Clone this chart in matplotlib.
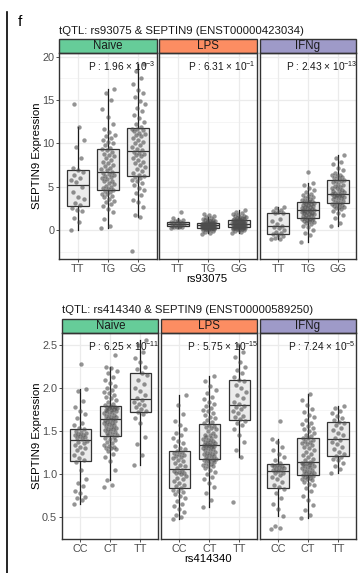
import matplotlib
matplotlib.use("Agg")
import matplotlib.pyplot as plt
from matplotlib.patches import Rectangle
from matplotlib.lines import Line2D

plt.rcParams['font.family'] = ['Liberation Sans', 'DejaVu Sans']
plt.rcParams['mathtext.default'] = 'regular'

conditions = ['Naive', 'LPS', 'IFNg']
strip_colors = ['#66CC99', '#FC8D62', '#9E9AC8']

# ---- rs93075 / SEPTIN9 (ENST00000423034)
geno_a = ['TT', 'TG', 'GG']
pvals_a = ['1.96', '6.31', '2.43']
pexp_a = ['-3', '-1', '-13']

naive_TT = [0.0, 0.9, 1.4, 2.2, 2.3, 2.5, 2.9, 3.1, 3.6, 3.8, 4.4, 5.0, 5.5, 5.8, 6.0, 6.4,
            6.7, 6.9, 7.2, 8.3, 9.6, 10.4, 11.9, 14.6]
naive_TG = [0.2, 0.5, 1.3, 2.1, 2.4, 2.8, 3.0, 3.2, 3.4, 3.6, 3.8, 3.9, 4.1, 4.2, 4.4, 4.5,
            4.6, 4.7, 4.9, 5.0, 5.1, 5.3, 5.4, 5.6, 5.7, 5.9, 6.0, 6.1, 6.2, 6.4, 6.5, 6.6,
            6.7, 6.9, 7.0, 7.2, 7.4, 7.5, 7.7, 7.9, 8.1, 8.3, 8.5, 8.7, 8.8, 9.0, 9.2, 9.3,
            9.5, 9.8, 10.0, 10.2, 10.4, 10.6, 10.8, 11.0, 11.3, 11.7, 12.2, 13.0, 14.0, 15.0, 15.8, 16.3]
naive_GG = [-2.4, 1.5, 1.7, 2.6, 3.2, 3.5, 4.0, 4.3, 4.6, 4.9, 5.2, 5.4, 5.6, 5.8, 6.0, 6.1,
            6.2, 6.4, 6.6, 6.8, 7.0, 7.3, 7.5, 7.7, 7.9, 8.1, 8.3, 8.5, 8.7, 8.8, 8.9, 9.0,
            9.2, 9.4, 9.6, 9.8, 10.0, 10.2, 10.4, 10.6, 10.8, 11.0, 11.1, 11.2, 11.4, 11.5, 11.6, 11.7,
            11.9, 12.2, 12.5, 12.9, 13.3, 13.7, 14.1, 14.5, 14.9, 15.3, 15.8, 16.2, 16.8, 17.6, 18.3, 19.2]
lps_TT = [0.25, 0.3, 0.35, 0.38, 0.4, 0.45, 0.5, 0.6, 0.65, 0.7, 0.75, 0.8, 0.85, 0.9, 0.95,
          1.05, 1.1, 1.2, 1.35, 2.1]
lps_TG = [-0.5, -0.3, -0.2, -0.1, 0.0, 0.05, 0.1, 0.12, 0.15, 0.17, 0.19, 0.2, 0.22, 0.23, 0.24, 0.25, 0.27,
          0.29, 0.31, 0.33, 0.35, 0.37, 0.39, 0.4, 0.42, 0.44, 0.45, 0.47, 0.48, 0.5, 0.51, 0.52, 0.53,
          0.55, 0.56, 0.57, 0.58, 0.6, 0.61, 0.62, 0.64, 0.65, 0.66, 0.68, 0.7, 0.71, 0.73, 0.74, 0.76,
          0.78, 0.8, 0.83, 0.86, 0.9, 0.95, 1.0, 1.05, 1.1, 1.15, 1.2, 1.3, 1.4, 1.5, 1.6, 1.75, 1.9]
lps_GG = [-0.3, -0.2, -0.1, 0.0, 0.05, 0.1, 0.13, 0.16, 0.19, 0.21, 0.23, 0.25, 0.27, 0.28, 0.29, 0.3,
          0.32, 0.34, 0.37, 0.4, 0.43, 0.46, 0.49, 0.51, 0.54, 0.56, 0.58, 0.6, 0.62, 0.64, 0.66, 0.68,
          0.7, 0.72, 0.75, 0.77, 0.8, 0.83, 0.86, 0.89, 0.92, 0.95, 0.98, 1.01, 1.04, 1.08, 1.11, 1.14,
          1.17, 1.2, 1.24, 1.28, 1.32, 1.36, 1.41, 1.46, 1.52, 1.58, 1.65, 1.73, 1.82, 1.93, 2.1, 2.3]
ifng_TT = [-1.05, -1.0, -0.9, -0.7, -0.55, -0.45, -0.4, -0.2, 0.0, 0.2, 0.4, 0.5, 0.7, 1.0, 1.3,
           1.95, 2.0, 2.05, 2.15, 2.3, 2.5, 2.7]
ifng_TG = [-1.4, -0.6, -0.3, 0.0, 0.3, 0.5, 0.7, 0.8, 0.9, 1.0, 1.05, 1.1, 1.2, 1.25, 1.3,
           1.35, 1.4, 1.5, 1.6, 1.7, 1.75, 1.8, 1.9, 1.95, 2.0, 2.05, 2.1, 2.15, 2.2, 2.25,
           2.3, 2.35, 2.4, 2.5, 2.55, 2.6, 2.7, 2.8, 2.85, 2.9, 3.0, 3.05, 3.1, 3.2, 3.25,
           3.3, 3.4, 3.5, 3.6, 3.7, 3.8, 3.9, 4.0, 4.2, 4.4, 4.6, 4.9, 5.2, 5.45, 6.65]
ifng_GG = [0.5, 0.8, 1.4, 1.7, 2.0, 2.2, 2.4, 2.5, 2.6, 2.7, 2.8, 2.9, 3.0, 3.05,
           3.15, 3.25, 3.35, 3.45, 3.55, 3.65, 3.75, 3.85, 3.9, 3.95, 4.0, 4.05, 4.1, 4.15,
           4.25, 4.35, 4.45, 4.55, 4.65, 4.8, 4.9, 5.0, 5.1, 5.2, 5.35, 5.5, 5.6, 5.7,
           5.8, 5.9, 6.0, 6.1, 6.2, 6.3, 6.4, 6.6, 6.9, 7.2, 7.6, 7.9, 8.3, 8.6]

# ---- rs414340 / SEPTIN9 (ENST00000589250)
geno_b = ['CC', 'CT', 'TT']
pvals_b = ['6.25', '5.75', '7.24']
pexp_b = ['-11', '-15', '-5']

naive_CC = [0.66, 0.7, 0.72, 0.74, 0.78, 0.8, 0.86, 0.9, 0.95, 1.05, 1.14,
            1.16, 1.19, 1.22, 1.25, 1.28, 1.3, 1.32, 1.34, 1.36, 1.38, 1.39,
            1.41, 1.42, 1.43, 1.44, 1.45, 1.46, 1.47, 1.48, 1.49, 1.5, 1.52,
            1.54, 1.57, 1.6, 1.65, 1.7, 1.74, 1.78, 1.85, 1.97, 1.99, 2.28]
naive_CT = [0.85, 0.87, 0.93, 1.05, 1.15, 1.2, 1.24, 1.27, 1.29, 1.3, 1.31, 1.32, 1.33, 1.34, 1.36, 1.38, 1.4, 1.41, 1.42, 1.43,
            1.45, 1.46, 1.47, 1.48, 1.49, 1.5, 1.51, 1.52, 1.53, 1.54, 1.55, 1.56, 1.57, 1.58, 1.59, 1.6, 1.61, 1.62, 1.63, 1.635,
            1.645, 1.65, 1.66, 1.67, 1.68, 1.69, 1.7, 1.71, 1.72, 1.73, 1.74, 1.745, 1.75, 1.76, 1.765, 1.77, 1.775, 1.78, 1.785, 1.79,
            1.8, 1.82, 1.84, 1.86, 1.88, 1.9, 1.92, 1.94, 1.96, 1.98, 2.0, 2.03, 2.06, 2.1, 2.13, 2.17, 2.2, 2.23, 2.25, 2.38]
naive_TT2 = [1.11, 1.22, 1.35, 1.43, 1.6, 1.65, 1.7, 1.72,
             1.74, 1.76, 1.78, 1.8, 1.82, 1.84, 1.86,
             1.88, 1.92, 1.97, 2.0, 2.05, 2.1, 2.15,
             2.18, 2.22, 2.25, 2.3, 2.35, 2.42, 2.5, 2.56]
lps_CC = [0.48, 0.5, 0.53, 0.56, 0.6, 0.63, 0.66, 0.69, 0.72, 0.75, 0.77, 0.79, 0.81, 0.82,
          0.84, 0.86, 0.88, 0.9, 0.92, 0.94, 0.96, 0.98, 1.0, 1.01, 1.02, 1.03, 1.04, 1.05,
          1.07, 1.09, 1.11, 1.13, 1.15, 1.17, 1.19, 1.2, 1.21, 1.22, 1.24, 1.25, 1.26, 1.27,
          1.29, 1.31, 1.33, 1.36, 1.39, 1.42, 1.45, 1.48, 1.52, 1.57, 1.62, 1.7, 1.8, 1.92]
lps_CT = [0.62, 0.7, 0.78, 0.85, 0.9, 0.94, 0.97, 1.0, 1.03, 1.05, 1.07, 1.09, 1.1, 1.11, 1.12, 1.13, 1.14, 1.15, 1.16, 1.165,
          1.175, 1.18, 1.19, 1.2, 1.21, 1.22, 1.23, 1.24, 1.25, 1.26, 1.27, 1.28, 1.29, 1.3, 1.31, 1.32, 1.325, 1.33, 1.335, 1.338,
          1.342, 1.35, 1.36, 1.37, 1.38, 1.39, 1.4, 1.41, 1.42, 1.43, 1.44, 1.45, 1.46, 1.48, 1.5, 1.52, 1.54, 1.55, 1.565, 1.575,
          1.59, 1.61, 1.63, 1.65, 1.67, 1.69, 1.71, 1.73, 1.75, 1.77, 1.79, 1.81, 1.84, 1.87, 1.9, 1.94, 1.98, 2.03, 2.08, 2.14]
lps_TT2 = [0.68, 1.2, 1.28, 1.38, 1.45, 1.52, 1.57, 1.6, 1.62,
           1.64, 1.66, 1.68, 1.71, 1.74, 1.76, 1.78, 1.79,
           1.81, 1.84, 1.88, 1.92, 1.96, 2.0, 2.04, 2.08,
           2.1, 2.13, 2.17, 2.21, 2.25, 2.3, 2.36, 2.42, 2.5]
ifng_CC = [0.36, 0.38, 0.4, 0.51, 0.6, 0.66, 0.72, 0.78, 0.83,
           0.85, 0.88, 0.91, 0.94, 0.97, 0.99, 1.01, 1.02, 1.035,
           1.045, 1.055, 1.065, 1.07, 1.08, 1.09, 1.1, 1.105, 1.11,
           1.13, 1.16, 1.2, 1.24, 1.28, 1.32, 1.37, 1.41, 1.62]
ifng_CT = [0.49, 0.53, 0.58, 0.64, 0.7, 0.75, 0.8, 0.84, 0.87, 0.89, 0.91, 0.93, 0.94, 0.95, 0.96, 0.97, 0.975, 0.985,
           0.99, 1.0, 1.01, 1.02, 1.03, 1.04, 1.05, 1.06, 1.07, 1.08, 1.09, 1.1, 1.11, 1.12, 1.125, 1.13, 1.135,
           1.145, 1.16, 1.18, 1.2, 1.22, 1.24, 1.26, 1.28, 1.3, 1.32, 1.34, 1.35, 1.36, 1.38, 1.39, 1.4, 1.415,
           1.425, 1.44, 1.46, 1.48, 1.5, 1.52, 1.54, 1.56, 1.58, 1.6, 1.63, 1.66, 1.69, 1.72, 1.76, 1.8, 1.86, 1.93]
ifng_TT2 = [1.02, 1.06, 1.1, 1.13, 1.16, 1.18, 1.2, 1.21,
            1.23, 1.26, 1.29, 1.32, 1.35, 1.38, 1.4,
            1.42, 1.45, 1.48, 1.51, 1.54, 1.57, 1.59,
            1.61, 1.63, 1.65, 1.68, 1.71, 1.74, 1.77, 1.79]

top_data = [[naive_TT, naive_TG, naive_GG], [lps_TT, lps_TG, lps_GG], [ifng_TT, ifng_TG, ifng_GG]]
bot_data = [[naive_CC, naive_CT, naive_TT2], [lps_CC, lps_CT, lps_TT2], [ifng_CC, ifng_CT, ifng_TT2]]

W, H = 358, 573
fig = plt.figure(figsize=(W / 100, H / 100), dpi=100)


def px_axes(x0, x1, y0, y1):
    return fig.add_axes([x0 / W, 1 - y1 / H, (x1 - x0) / W, (y1 - y0) / H])


def draw_panel(ax, groups, genos, ylim, yticks, ylabels, show_y, pval, pexp, cond, color, minor):
    ax.set_facecolor('white')
    pos = [1, 2, 3]
    # grid (major + minor, theme_bw style)
    for t in yticks:
        ax.axhline(t, color='#EBEBEB', lw=0.9, zorder=0)
    for t in minor:
        ax.axhline(t, color='#F2F2F2', lw=0.5, zorder=0)
    for p in pos:
        ax.axvline(p, color='#EBEBEB', lw=0.9, zorder=0)
    bp = ax.boxplot(groups, positions=pos, widths=0.72, patch_artist=True,
                    showfliers=False, showcaps=False, zorder=2)
    for b in bp['boxes']:
        b.set(facecolor='#EBEBEB', edgecolor='#333333', linewidth=0.9)
    for m in bp['medians']:
        m.set(color='#333333', linewidth=0.9)
    for w in bp['whiskers']:
        w.set(color='#1A1A1A', linewidth=0.9)
    # jittered points on top
    for p, vals in zip(pos, groups):
        xs = [p + (((i * 0.6180339887) % 1.0) - 0.5) * 0.44 for i in range(len(vals))]
        ax.scatter(xs, vals, s=10, color='#4D4D4D', alpha=0.6, linewidths=0, zorder=3)
    ax.set_xlim(0.4, 3.6)
    ax.set_ylim(*ylim)
    ax.set_xticks(pos)
    ax.set_xticklabels(genos)
    ax.set_yticks(yticks)
    if show_y:
        ax.set_yticklabels(ylabels)
    else:
        ax.tick_params(axis='y', left=False, labelleft=False)
    ax.tick_params(colors='#333333', labelcolor='#4D4D4D', labelsize=7.8, length=2.5, width=0.6, pad=1.2)
    for s in ax.spines.values():
        s.set_color('#333333')
        s.set_linewidth(1.0)
    ax.text(2.45, 0.935, 'P : %s × 10$^{%s}$' % (pval, pexp), transform=ax.get_xaxis_transform(),
            ha='center', va='center', fontsize=7.3, color='#1A1A1A', zorder=4)
    # facet strip
    sh = 14 / (ax.get_position().height * H)
    ax.add_patch(Rectangle((0, 1), 1, sh, transform=ax.transAxes, clip_on=False,
                           facecolor=color, edgecolor='#333333', lw=1.0))
    ax.text(0.5, 1 + sh / 2, cond, transform=ax.transAxes, ha='center', va='center',
            fontsize=8.3, color='#1A1A1A')


top_x = [(59.3, 156.7), (159.3, 257.3), (260, 356)]
bot_x = [(62.3, 158.3), (161.3, 257.3), (260, 356)]

for i in range(3):
    ax = px_axes(top_x[i][0], top_x[i][1], 53, 259)
    draw_panel(ax, top_data[i], geno_a, (-3.35, 20.43), [0, 5, 10, 15, 20],
               ['0', '5', '10', '15', '20'], i == 0, pvals_a[i], pexp_a[i],
               conditions[i], strip_colors[i], [-2.5, 2.5, 7.5, 12.5, 17.5])
    ax = px_axes(bot_x[i][0], bot_x[i][1], 333, 539)
    draw_panel(ax, bot_data[i], geno_b, (0.248, 2.64), [0.5, 1.0, 1.5, 2.0, 2.5],
               ['0.5', '1.0', '1.5', '2.0', '2.5'], i == 0, pvals_b[i], pexp_b[i],
               conditions[i], strip_colors[i], [0.75, 1.25, 1.75, 2.25])

fig.text(59 / W, 1 - 31 / H, 'tQTL: rs93075 & SEPTIN9 (ENST00000423034)', ha='left', va='center',
         fontsize=8.2, color='#1A1A1A')
fig.text(62 / W, 1 - 310 / H, 'tQTL: rs414340 & SEPTIN9 (ENST00000589250)', ha='left', va='center',
         fontsize=8.2, color='#1A1A1A')
fig.text(207 / W, 1 - 279 / H, 'rs93075', ha='center', va='center', fontsize=8.2)
fig.text(208 / W, 1 - 559 / H, 'rs414340', ha='center', va='center', fontsize=8.2)
fig.text(36.5 / W, 1 - 156 / H, 'SEPTIN9 Expression', rotation=90, ha='center', va='center', fontsize=8.2)
fig.text(36.5 / W, 1 - 436 / H, 'SEPTIN9 Expression', rotation=90, ha='center', va='center', fontsize=8.2)
fig.text(20 / W, 1 - 22 / H, 'f', ha='center', va='center', fontsize=11)

fig.add_artist(Line2D([6.8 / W, 6.8 / W], [0, 1 - 12 / H], color='black', lw=1.2))

fig.savefig('out.png', dpi=100)
